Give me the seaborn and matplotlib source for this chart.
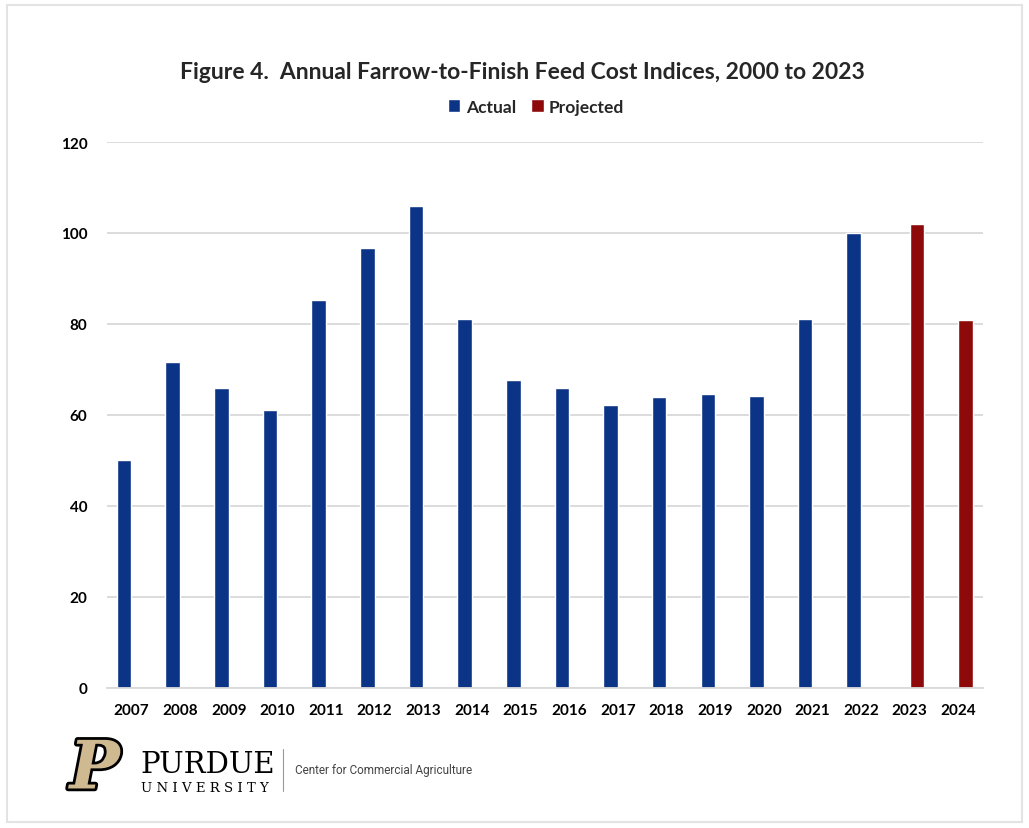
import matplotlib
matplotlib.use("Agg")
import matplotlib.pyplot as plt
import matplotlib.patheffects as pe
from matplotlib.patches import Rectangle
import seaborn as sns
import pandas as pd

years = [str(y) for y in range(2007, 2025)]
values = [50.0, 71.7, 65.9, 61.0, 85.2, 96.6, 106.0, 81.2, 67.7, 65.9,
          62.2, 63.9, 64.6, 64.1, 81.2, 99.9, 102.0, 80.9]
types = ["Actual"] * 16 + ["Projected"] * 2
colors = {"Actual": "#0B3487", "Projected": "#8E0A0A"}

df = pd.DataFrame({"year": years, "value": values, "type": types})

sns.set_theme(style="white")
plt.rcParams["font.family"] = ["Lato", "DejaVu Sans"]

fig = plt.figure(figsize=(10.29, 8.29), dpi=100)
ax = fig.add_axes([0.104, 0.169, 0.851, 0.6585])

sns.barplot(data=df, x="year", y="value", hue="type", dodge=True,
            palette=colors, width=0.6, ax=ax, saturation=1)

ax.set_xlim(-0.5, len(years) - 0.5)
ax.set_ylim(0, 120)
ax.set_yticks(range(0, 121, 20))
ax.yaxis.grid(True, color="#d9d9d9", linewidth=1.3)
ax.set_axisbelow(True)
for s in ["top", "right", "left"]:
    ax.spines[s].set_visible(False)
ax.spines["bottom"].set_color("#d9d9d9")
ax.spines["bottom"].set_linewidth(1.3)
ax.set_xlabel("")
ax.set_ylabel("")
ax.tick_params(axis="both", length=0, labelsize=11, colors="black")
ax.tick_params(axis="x", pad=11)
ax.tick_params(axis="y", pad=14)
for lab in ax.get_xticklabels() + ax.get_yticklabels():
    lab.set_fontweight("bold")

handles, labels = ax.get_legend_handles_labels()
ax.legend(handles, labels, loc="center", bbox_to_anchor=(0.49, 1.065), ncol=2,
          frameon=False, handlelength=0.7, handleheight=0.7, handletextpad=0.3,
          columnspacing=0.9, prop={"weight": "bold", "size": 12.5})

fig.text(0.508, 0.913, "Figure 4.  Annual Farrow-to-Finish Feed Cost Indices, 2000 to 2023",
         ha="center", va="center", fontsize=16.5, fontweight="bold")

# border
fig.patches.append(Rectangle((0.007, 0.007), 0.986, 0.986, transform=fig.transFigure,
                             fill=False, edgecolor="#e3e3e3", linewidth=1.5))

# footer logo
fig.text(0.092, 0.07, "P", ha="center", va="center", fontsize=48, fontweight="bold",
         style="italic", family="DejaVu Serif", color="#CFB991",
         path_effects=[pe.withStroke(linewidth=4, foreground="black")])
fig.text(0.136, 0.077, "PURDUE", ha="left", va="center", fontsize=21,
         family="DejaVu Serif", color="black")
fig.text(0.137, 0.049, "U N I V E R S I T Y", ha="left", va="center", fontsize=9.5,
         family="DejaVu Serif", color="black")
fig.lines.append(plt.Line2D([0.275, 0.275], [0.045, 0.095], transform=fig.transFigure,
                            color="#999999", linewidth=0.8))
fig.text(0.287, 0.07, "Center for Commercial Agriculture", ha="left", va="center",
         fontsize=8.5, color="#444444", family=["Roboto", "DejaVu Sans"])

fig.savefig("out.png", dpi=100)
